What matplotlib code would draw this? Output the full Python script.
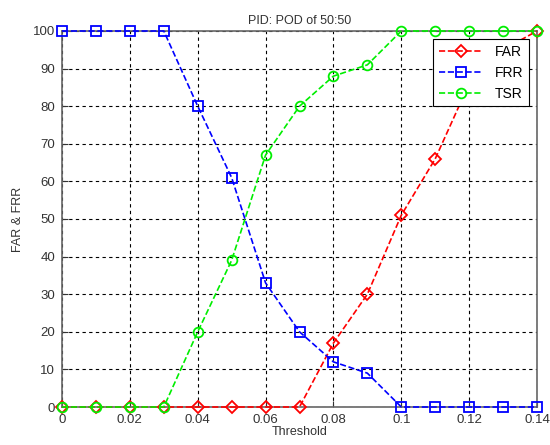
import matplotlib
matplotlib.use('Agg')
import matplotlib.pyplot as plt

plt.rcParams['font.family'] = ['Liberation Sans', 'DejaVu Sans']

threshold = [0, 0.01, 0.02, 0.03, 0.04, 0.05, 0.06, 0.07, 0.08, 0.09, 0.10, 0.11, 0.12, 0.13, 0.14]
far = [0, 0, 0, 0, 0, 0, 0, 0, 17, 30, 51, 66, 86, 95, 100]
frr = [100, 100, 100, 100, 80, 61, 33, 20, 12, 9, 0, 0, 0, 0, 0]
tsr = [0, 0, 0, 0, 20, 39, 67, 80, 88, 91, 100, 100, 100, 100, 100]
xticks = [0, 0.02, 0.04, 0.06, 0.08, 0.1, 0.12, 0.14]
xticklabels = ['0', '0.02', '0.04', '0.06', '0.08', '0.1', '0.12', '0.14']

fig = plt.figure(figsize=(5.5, 4.45), dpi=100)
ax = fig.add_axes([62/550, 1 - 407/445, 475/550, 376/445])

ax.plot(threshold, far, color='red', linestyle='--', marker='D', markersize=6,
        markerfacecolor='none', markeredgewidth=1.3, linewidth=1.2, label='FAR',
        clip_on=False, zorder=3)
ax.plot(threshold, frr, color='blue', linestyle='--', marker='s', markersize=7,
        markerfacecolor='none', markeredgewidth=1.3, linewidth=1.2, label='FRR',
        clip_on=False, zorder=3)
ax.plot(threshold, tsr, color='#00ee00', linestyle='--', marker='o', markersize=7,
        markerfacecolor='none', markeredgewidth=1.3, linewidth=1.2, label='TSR',
        clip_on=False, zorder=3)

ax.set_xlim(0, 0.14)
ax.set_ylim(0, 100)
ax.set_xticks(xticks)
ax.set_xticklabels(xticklabels)
ax.set_yticks(range(0, 101, 10))
ax.grid(True, color='black', linestyle=(0, (3, 3)), linewidth=0.8)
ax.tick_params(direction='in', labelsize=9.5, colors='#333333', length=4, pad=5)
for s in ax.spines.values():
    s.set_color('#666666')
    s.set_linewidth(1.2)

ax.set_title('PID: POD of 50:50', fontsize=9, color='#333333', pad=5)
ax.set_xlabel('Threshold', fontsize=9, color='#333333', labelpad=0)
ax.set_ylabel('FAR & FRR', fontsize=9, color='#333333', labelpad=6)

leg = ax.legend(loc='upper right', fontsize=10, fancybox=False, framealpha=1,
                edgecolor='black', borderaxespad=0.6, handlelength=3.2)
leg.get_frame().set_linewidth(0.8)
leg.set_zorder(5)

fig.savefig('out.png', dpi=100)
